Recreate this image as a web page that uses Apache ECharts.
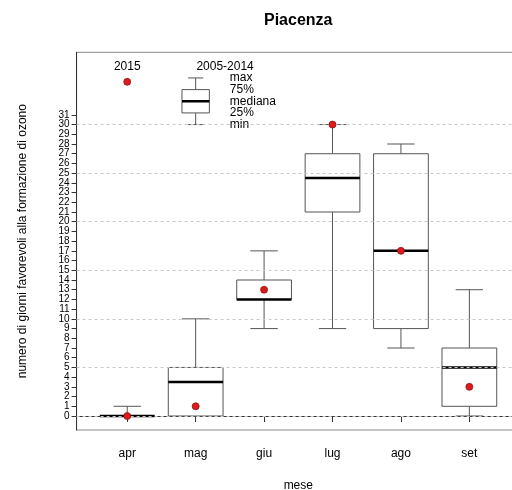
<!DOCTYPE html>
<html>
<head>
<meta charset="utf-8">
<script src="https://cdn.jsdelivr.net/npm/echarts@6/dist/echarts.min.js"></script>
<style>html,body{margin:0;padding:0;background:#fff}#c{width:512px;height:490px}</style>
</head>
<body>
<div id="c"></div>
<script>
// ---- data ----
const months = ['apr', 'mag', 'giu', 'lug', 'ago', 'set'];
const minV = [0, 0, 9, 9, 7, 0];
const q1V = [0, 0, 12, 21, 9, 1];
const medV = [0, 3.5, 12, 24.5, 17, 5];
const q3V = [0, 5, 14, 27, 27, 7];
const maxV = [1, 10, 17, 30, 28, 13];
const val2015 = [0, 1, 13, 30, 17, 3];
const yTicks = [0, 1, 2, 3, 4, 5, 6, 7, 8, 9, 10, 11, 12, 13, 14, 15, 16, 17, 18, 19, 20, 21, 22, 23, 24, 25, 26, 27, 28, 29, 30, 31];
const xTicks = [1, 2, 3, 4, 5, 6];
const gridValues = [0, 5, 10, 15, 20, 25, 30];
// legend (drawn in data coordinates, as in the original)
const legendBox = [30, 31.2, 32.4, 33.6, 34.8];
const legendLabels = ['min', '25%', 'mediana', '75%', 'max'];
const legendDot = [1, 34.4];
const legendHeaders = [{ text: '2015', x: 1, y: 36 }, { text: '2005-2014', x: 2.43, y: 36 }];

const FONT = '"Liberation Sans", Arial, sans-serif';
const chart = echarts.init(document.getElementById('c'));

// labels are split over two stacked axes so that tightly packed labels are not auto-hidden
const evenTicks = yTicks.filter(v => v % 2 === 0);
const oddTicks = yTicks.filter(v => v % 2 === 1);

function boxRenderer(hw, cw, withLabels) {
  return function (params, api) {
    const x = api.value(0), mn = api.value(1), q1 = api.value(2), md = api.value(3), q3 = api.value(4), mx = api.value(5);
    const c = (a, b) => api.coord([a, b]);
    const stroke = { stroke: '#555', lineWidth: 1 };
    const children = [];
    const pMin = c(x, mn), pQ1 = c(x, q1), pQ3 = c(x, q3), pMax = c(x, mx);
    children.push({ type: 'line', shape: { x1: pMin[0], y1: pMin[1], x2: pQ1[0], y2: pQ1[1] }, style: stroke });
    children.push({ type: 'line', shape: { x1: pQ3[0], y1: pQ3[1], x2: pMax[0], y2: pMax[1] }, style: stroke });
    const cl = c(x - cw, mn), cr = c(x + cw, mn);
    children.push({ type: 'line', shape: { x1: cl[0], y1: cl[1], x2: cr[0], y2: cr[1] }, style: stroke });
    const hl = c(x - cw, mx), hr = c(x + cw, mx);
    children.push({ type: 'line', shape: { x1: hl[0], y1: hl[1], x2: hr[0], y2: hr[1] }, style: stroke });
    const bl = c(x - hw, q3), br = c(x + hw, q1);
    children.push({ type: 'rect', shape: { x: bl[0], y: bl[1], width: br[0] - bl[0], height: br[1] - bl[1] }, style: { fill: '#fff', stroke: '#555', lineWidth: 1 } });
    const ml = c(x - hw, md), mr = c(x + hw, md);
    children.push({ type: 'line', shape: { x1: ml[0], y1: ml[1], x2: mr[0], y2: mr[1] }, style: { stroke: '#000', lineWidth: 2.5 } });
    if (withLabels) {
      const vals = [mn, q1, md, q3, mx];
      vals.forEach((v, i) => {
        const p = c(2.5, v);
        children.push({ type: 'text', x: p[0], y: p[1], style: { text: legendLabels[i], fill: '#000', font: '12px ' + FONT, align: 'left', verticalAlign: 'middle' } });
      });
      legendHeaders.forEach(h => {
        const p = c(h.x, h.y);
        children.push({ type: 'text', x: p[0], y: p[1], style: { text: h.text, fill: '#000', font: '12px ' + FONT, align: 'center', verticalAlign: 'middle' } });
      });
    }
    return { type: 'group', children };
  };
}

const boxData = months.map((m, i) => [i + 1, minV[i], q1V[i], medV[i], q3V[i], maxV[i]]);
const dotData = val2015.map((v, i) => [i + 1, v]);

const yLabelStyle = { showMinLabel: true, showMaxLabel: true, hideOverlap: false, fontFamily: FONT, fontSize: 10, color: '#000', margin: 7 };

chart.setOption({
  animation: false,
  title: {
    text: 'Piacenza', left: 264, top: 13, padding: 0,
    textStyle: { fontFamily: FONT, fontSize: 16, fontWeight: 'bold', color: '#000' }
  },
  grid: { left: 76.6, top: 52.3, bottom: 60, right: -8, outerBoundsMode: 'none', containLabel: false, show: true, borderColor: '#888', borderWidth: 1, backgroundColor: 'transparent' },
  xAxis: {
    type: 'value', min: 0.26, max: 6.74,
    name: 'mese', nameLocation: 'middle', nameGap: 50,
    nameTextStyle: { fontFamily: FONT, fontSize: 12, color: '#000' },
    axisLine: { show: true, lineStyle: { color: '#333' } },
    axisTick: { show: true, customValues: xTicks, length: 6, lineStyle: { color: '#333' } },
    axisLabel: { customValues: xTicks, formatter: v => months[Math.round(v) - 1], fontFamily: FONT, fontSize: 12, color: '#000', margin: 18 },
    splitLine: { show: false }
  },
  yAxis: [
    {
      type: 'value', min: -1.44, max: 37.44, position: 'left',
      name: 'numero di giorni favorevoli alla formazione di ozono', nameLocation: 'middle', nameGap: 48, nameRotate: 90,
      nameTextStyle: { fontFamily: FONT, fontSize: 12, color: '#000' },
      axisLine: { show: true, lineStyle: { color: '#333' } },
      axisTick: { show: true, customValues: yTicks, length: 5, lineStyle: { color: '#333' } },
      axisLabel: Object.assign({ customValues: evenTicks }, yLabelStyle),
      splitLine: { show: false }
    },
    {
      type: 'value', min: -1.44, max: 37.44, position: 'left', offset: 0,
      axisLine: { show: false },
      axisTick: { show: false },
      axisLabel: Object.assign({ customValues: oddTicks }, yLabelStyle),
      splitLine: { show: false }
    }
  ],
  series: [
    {
      type: 'custom', z: 2, renderItem: boxRenderer(0.4, 0.2, false), data: boxData,
      encode: { x: 0, y: [1, 2, 3, 4, 5] },
      markLine: {
        silent: true, symbol: ['none', 'none'], z: 5, animation: false,
        label: { show: false },
        lineStyle: { color: '#c8c8c8', type: [3, 3], width: 1 },
        data: gridValues.map(v => ({ yAxis: v }))
      }
    },
    {
      type: 'custom', z: 2, renderItem: boxRenderer(0.2, 0.11, true), data: [[2].concat(legendBox)],
      encode: { x: 0, y: [1, 2, 3, 4, 5] }
    },
    {
      type: 'scatter', z: 8, symbol: 'circle', symbolSize: 7,
      itemStyle: { color: '#e0191c', borderColor: '#7a1010', borderWidth: 0.7, opacity: 1 },
      data: dotData.concat([legendDot])
    }
  ]
});
</script>
</body>
</html>
